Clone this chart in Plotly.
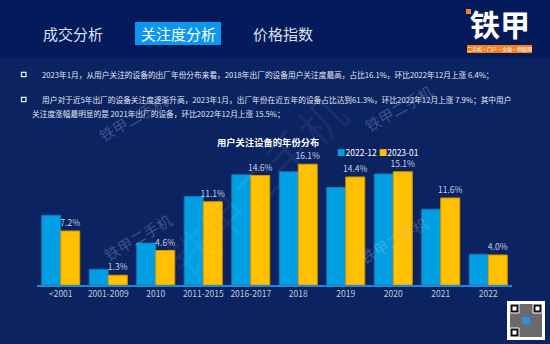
import plotly.graph_objects as go

categories = ["<2001", "2001-2009", "2010", "2011-2015", "2016-2017",
              "2018", "2019", "2020", "2021", "2022"]
series_2022_12 = [9.3, 2.1, 5.6, 11.8, 14.7, 15.1, 13.0, 14.8, 10.1, 4.1]
series_2023_01 = [7.2, 1.3, 4.6, 11.1, 14.6, 16.1, 14.4, 15.1, 11.6, 4.0]
series_names = ["2022-12", "2023-01"]
tabs = ["成交分析", "关注度分析", "价格指数"]
chart_title = "用户关注设备的年份分布"
bullet_lines = [
    "2023年1月，从用户关注的设备的出厂年份分布来看，2018年出厂的设备用户关注度最高，占比16.1%，环比2022年12月上涨 6.4%；",
    "用户对于近5年出厂的设备关注度逐渐升高，2023年1月，出厂年份在近五年的设备占比达到61.3%，环比2022年12月上涨 7.9%；其中用户",
    "关注度涨幅最明显的是 2021年出厂的设备，环比2022年12月上涨 15.5%；",
]

W, H = 550, 344
L, R, T, B = 37, 38, 150, 59
PW, PH = W - L - R, H - T - B
FONT = "Noto Sans CJK SC, Noto Sans, sans-serif"
BLUE, YELLOW = "#009fe3", "#ffc000"
BODY_BG, HEAD_BG = "#0b2361", "#041a5a"


def px(x):
    return (x - L) / PW


def py(y):
    return (H - B - y) / PH


fig = go.Figure()
fig.add_trace(go.Bar(
    x=categories, y=series_2022_12, name=series_names[0],
    marker=dict(color=BLUE, line=dict(color="#1577b8", width=1)),
))
fig.add_trace(go.Bar(
    x=categories, y=series_2023_01, name=series_names[1],
    marker=dict(color=YELLOW, line=dict(color="#d99a00", width=1)),
    text=[f"{v:.1f}%" for v in series_2023_01], textposition="outside",
    textfont=dict(size=8.5, color="#c9cee2", family=FONT),
    constraintext="none", cliponaxis=False,
))

shapes = []
annotations = []

# header band
shapes.append(dict(type="rect", xref="paper", yref="paper", x0=px(0), x1=px(W),
                   y0=py(0), y1=py(58), fillcolor=HEAD_BG, line_width=0, layer="below"))
# active tab box
shapes.append(dict(type="rect", xref="paper", yref="paper", x0=px(135), x1=px(221),
                   y0=py(22), y1=py(45), fillcolor="#0a98ee", line_width=0, layer="below"))
tab_x = [73, 178, 283]
for t, xc, active in zip(tabs, tab_x, [False, True, False]):
    annotations.append(dict(text=t, x=px(xc), y=py(33.5), xref="paper", yref="paper",
                            showarrow=False, xanchor="center", yanchor="middle",
                            font=dict(size=15, color="#ffffff" if active else "#dde1f0", family=FONT)))

# logo
annotations.append(dict(text="<b>铁甲</b>", x=px(500), y=py(23), xref="paper", yref="paper",
                        showarrow=False, xanchor="center", yanchor="middle",
                        font=dict(size=30, color="#ffffff", family=FONT)))
shapes.append(dict(type="rect", xref="paper", yref="paper", x0=px(466), x1=px(471),
                   y0=py(9), y1=py(14), fillcolor="#f5821f", line_width=0))
shapes.append(dict(type="rect", xref="paper", yref="paper", x0=px(467), x1=px(532),
                   y0=py(45), y1=py(53), fillcolor="#f5821f", line_width=0))
annotations.append(dict(text="二手机·门户·金融·物联网", x=px(499.5), y=py(49), xref="paper", yref="paper",
                        showarrow=False, xanchor="center", yanchor="middle",
                        font=dict(size=5, color="#ffffff", family=FONT)))

# bullets
for yb in (74.5, 99.5):
    shapes.append(dict(type="rect", xref="paper", yref="paper", x0=px(21.5), x1=px(26),
                       y0=py(yb - 2.2), y1=py(yb + 2.2), line=dict(color="#e6e9f5", width=1.3)))
for txt, x0, yc in zip(bullet_lines, [40, 40, 30], [74.5, 99.5, 113.5]):
    annotations.append(dict(text=txt, x=px(x0), y=py(yc), xref="paper", yref="paper",
                            showarrow=False, xanchor="left", yanchor="middle",
                            font=dict(size=7.7, color="#e3e6f2", family=FONT)))

# chart title
annotations.append(dict(text="<b>" + chart_title + "</b>", x=px(268), y=py(141.5), xref="paper", yref="paper",
                        showarrow=False, xanchor="center", yanchor="middle",
                        font=dict(size=9.3, color="#ffffff", family=FONT)))
# legend (compact)
legend_txt = (f"<span style='color:{BLUE}'>■</span>{series_names[0]} "
              f"<span style='color:{YELLOW}'>■</span>{series_names[1]}")
annotations.append(dict(text=legend_txt, x=px(335), y=py(152), xref="paper", yref="paper",
                        showarrow=False, xanchor="left", yanchor="middle",
                        font=dict(size=8.5, color="#ffffff", family=FONT)))

# watermarks
for xc, yc in [(132, 118), (398, 108), (137, 237), (393, 240)]:
    annotations.append(dict(text="铁甲二手机", x=px(xc), y=py(yc), xref="paper", yref="paper",
                            showarrow=False, xanchor="center", yanchor="middle", textangle=-30,
                            font=dict(size=15, color="rgba(200,210,235,0.28)", family=FONT)))
annotations.append(dict(text="铁甲二手机", x=px(255), y=py(185), xref="paper", yref="paper",
                        showarrow=False, xanchor="center", yanchor="middle", textangle=-45,
                        font=dict(size=46, color="rgba(255,255,255,0.06)", family=FONT)))

# QR code placeholder
shapes.append(dict(type="rect", xref="paper", yref="paper", x0=px(507), x1=px(545),
                   y0=py(301), y1=py(340), fillcolor="#ffffff", line_width=0))
shapes.append(dict(type="rect", xref="paper", yref="paper", x0=px(510), x1=px(542),
                   y0=py(304), y1=py(337), fillcolor="#6a6a6a", line_width=0))
for (qx, qy) in [(510, 304), (533, 304), (510, 328)]:
    shapes.append(dict(type="rect", xref="paper", yref="paper", x0=px(qx), x1=px(qx + 9),
                       y0=py(qy), y1=py(qy + 9), fillcolor="#111111", line=dict(color="#ffffff", width=1)))
    shapes.append(dict(type="rect", xref="paper", yref="paper", x0=px(qx + 2.5), x1=px(qx + 6.5),
                       y0=py(qy + 2.5), y1=py(qy + 6.5), fillcolor="#ffffff", line_width=0))
shapes.append(dict(type="rect", xref="paper", yref="paper", x0=px(522), x1=px(530),
                   y0=py(317), y1=py(324), fillcolor="#2f8fe0", line_width=0))

fig.update_layout(
    width=W, height=H,
    margin=dict(l=L, r=R, t=T, b=B, pad=0),
    paper_bgcolor=BODY_BG, plot_bgcolor=BODY_BG,
    barmode="group", bargap=0.2, bargroupgap=0,
    showlegend=False,
    shapes=shapes, annotations=annotations,
    font=dict(family=FONT),
    xaxis=dict(showline=True, linecolor="#1e8ad6", linewidth=2, showgrid=False,
               ticks="", tickfont=dict(size=8.5, color="#c3c8dd", family=FONT),
               fixedrange=True),
    yaxis=dict(range=[0, 18], visible=False, showgrid=False, zeroline=False, fixedrange=True),
)

fig.write_html("out.html", config={"displayModeBar": False})
